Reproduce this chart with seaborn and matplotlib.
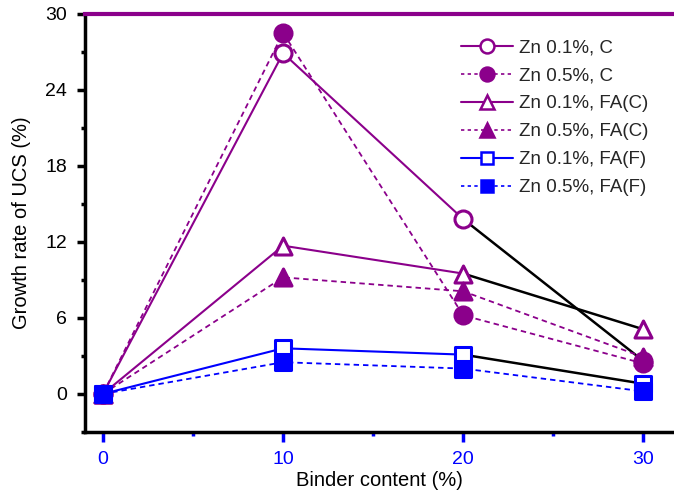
import matplotlib
matplotlib.use("Agg")
import matplotlib.pyplot as plt
import seaborn as sns
import pandas as pd
from matplotlib.ticker import MultipleLocator
from matplotlib.lines import Line2D

sns.set_theme(style="ticks")
plt.rcParams['font.family'] = ['Liberation Sans', 'DejaVu Sans']

binder = [0, 10, 20, 30]
zn01_c = [0, 26.9, 13.8, 2.6]
zn05_c = [0, 28.5, 6.2, 2.4]
zn01_fac = [0, 11.7, 9.5, 5.1]
zn05_fac = [0, 9.2, 8.1, 2.9]
zn01_faf = [0, 3.6, 3.1, 0.8]
zn05_faf = [0, 2.5, 2.0, 0.2]

labels = ["Zn 0.1%, C", "Zn 0.5%, C", "Zn 0.1%, FA(C)", "Zn 0.5%, FA(C)",
          "Zn 0.1%, FA(F)", "Zn 0.5%, FA(F)"]
series = [zn01_c, zn05_c, zn01_fac, zn05_fac, zn01_faf, zn05_faf]
purple = "#8B008B"
blue = "#0000FF"
colors = [purple, purple, purple, purple, blue, blue]
markers = ["o", "o", "^", "^", "s", "s"]
filled = [False, True, False, True, False, True]
dashed = [False, True, False, True, False, True]

fig = plt.figure(figsize=(6.74, 4.97), dpi=100)
ax = fig.add_axes([0.126, 0.131, 0.874, 0.841])

dash = (3, 2.2)
for lab, ys, c, m, f, d in zip(labels, series, colors, markers, filled, dashed):
    df = pd.DataFrame({"x": binder, "y": ys})
    if d:
        sns.lineplot(data=df, x="x", y="y", ax=ax, color=c, lw=1.3,
                     linestyle=(0, dash), zorder=2)
    else:
        sns.lineplot(data=df.iloc[:3], x="x", y="y", ax=ax, color=c, lw=1.5, zorder=2)
        sns.lineplot(data=df.iloc[2:], x="x", y="y", ax=ax, color="black", lw=1.8, zorder=2)

for lab, ys, c, m, f, d in zip(labels, series, colors, markers, filled, dashed):
    df = pd.DataFrame({"x": binder, "y": ys})
    ms = 150 if m != "s" else 130
    sns.scatterplot(data=df, x="x", y="y", ax=ax, marker=m, s=ms,
                    color=c if f else "white", edgecolor=c, linewidth=2.2,
                    zorder=4 if f else 3, legend=False)

ax.set_xlim(-1, 31.7)
ax.set_ylim(-3, 30)
ax.set_xticks([0, 10, 20, 30])
ax.set_yticks([0, 6, 12, 18, 24, 30])
ax.xaxis.set_minor_locator(MultipleLocator(5))
ax.yaxis.set_minor_locator(MultipleLocator(3))

for s in ["left", "bottom"]:
    ax.spines[s].set_linewidth(2.5)
    ax.spines[s].set_color("black")
ax.spines["right"].set_visible(False)
ax.spines["top"].set_color(purple)
ax.spines["top"].set_linewidth(3)

ax.tick_params(axis="x", which="major", colors=blue, labelcolor=blue, length=7,
               width=2.5, labelsize=14, direction="out", pad=7)
ax.tick_params(axis="x", which="minor", colors=blue, length=3, width=2.5)
ax.tick_params(axis="y", which="major", colors="black", length=6, width=2.5,
               labelsize=14, direction="out", pad=7)
ax.tick_params(axis="y", which="minor", colors="black", length=3, width=2.5)

ax.set_xlabel("Binder content (%)", fontsize=14.5, color="black", labelpad=2)
ax.set_ylabel("Growth rate of UCS (%)", fontsize=14.5, color="black", labelpad=10)

handles = []
for lab, c, m, f, d in zip(labels, colors, markers, filled, dashed):
    h = Line2D([], [], color=c, lw=1.5 if not d else 1.2,
               linestyle=(0, (2, 2)) if d else "-",
               marker=m, markersize=10 if m != "s" else 9,
               markerfacecolor=c if f else "white", markeredgecolor=c,
               markeredgewidth=1.8)
    handles.append(h)
leg = ax.legend(handles, labels, loc="upper right", bbox_to_anchor=(0.985, 0.98),
                frameon=False, fontsize=13.5, handlelength=2.8, labelspacing=0.58,
                handletextpad=0.3)

fig.savefig("out.png", dpi=100)
